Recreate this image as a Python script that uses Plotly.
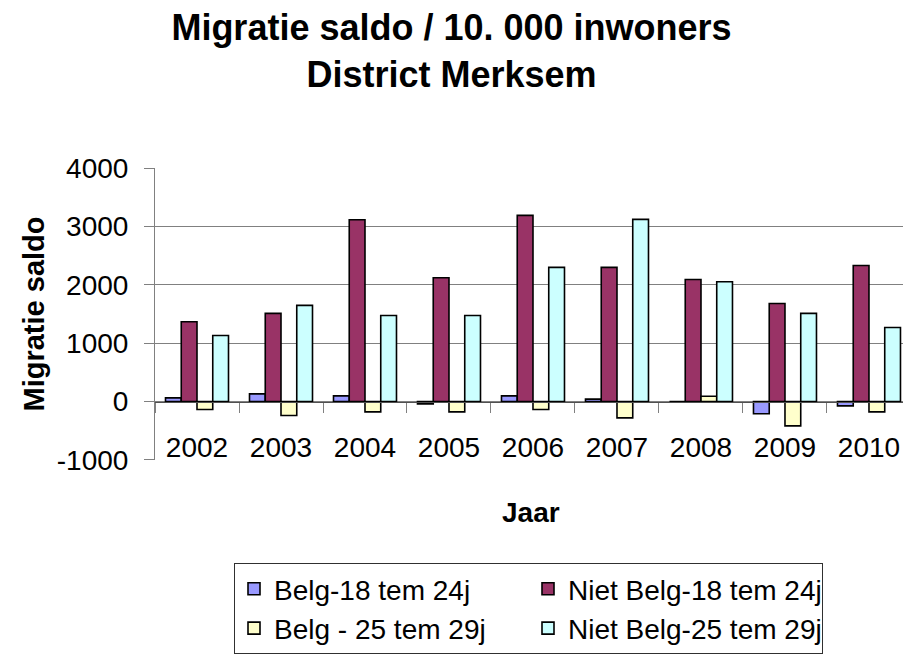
import plotly.graph_objects as go

years = ["2002", "2003", "2004", "2005", "2006", "2007", "2008", "2009", "2010"]
belg_18_24 = [63, 131, 97, -40, 97, 40, 0, -211, -74]
niet_belg_18_24 = [1366, 1509, 3114, 2120, 3189, 2297, 2091, 1680, 2331]
belg_25_29 = [-137, -240, -177, -177, -137, -280, 91, -417, -177]
niet_belg_25_29 = [1131, 1646, 1474, 1474, 2297, 3120, 2051, 1509, 1269]

series_names = ["Belg-18 tem 24j", "Niet Belg-18 tem 24j", "Belg - 25 tem 29j", "Niet Belg-25 tem 29j"]
series_values = [belg_18_24, niet_belg_18_24, belg_25_29, niet_belg_25_29]
series_colors = ["#9999FF", "#993366", "#FFFFCC", "#CCFFFF"]
series_groups = ["belg", "niet", "belg", "niet"]

y_ticks = [-1000, 0, 1000, 2000, 3000, 4000]
y_min, y_max = -1002, 4000
font = "Liberation Sans, Arial, sans-serif"

fig = go.Figure()
for name, vals, col, grp in zip(series_names, series_values, series_colors, series_groups):
    fig.add_trace(go.Bar(
        x=years, y=vals, name=name, legendgroup=grp,
        marker=dict(color=col, line=dict(color="black", width=1.6)),
    ))

zero_pos = (0 - y_min) / (y_max - y_min)

fig.update_layout(
    width=903, height=655,
    margin=dict(l=155, r=0, t=168, b=195, autoexpand=False),
    paper_bgcolor="white", plot_bgcolor="white",
    font=dict(family=font, color="black", size=28),
    barmode="group", bargap=0.25, bargroupgap=0,
    title=dict(
        text="<b>Migratie saldo / 10. 000 inwoners<br>District Merksem</b>",
        x=0.5, xref="container", xanchor="center",
        y=1 - 40 / 655, yref="container", yanchor="middle",
        font=dict(size=36, family=font),
    ),
    xaxis=dict(
        type="category",
        range=[-0.5, 8.405],
        anchor="free", position=zero_pos,
        showline=True, linecolor="#505050", linewidth=1,
        ticks="outside", tickson="boundaries", ticklen=10, tickcolor="#808080",
        showgrid=False, zeroline=False,
        tickfont=dict(size=28),
        ticklabelstandoff=21,
    ),
    yaxis=dict(
        range=[y_min, y_max],
        tickvals=y_ticks, ticktext=[str(v) for v in y_ticks],
        showgrid=True, gridcolor="#808080", gridwidth=1,
        showline=True, linecolor="#808080", linewidth=1,
        ticks="outside", ticklen=10, tickcolor="#808080",
        zeroline=False,
        tickfont=dict(size=28),
        ticklabelstandoff=10,
        title=dict(text="<b>Migratie saldo</b>", font=dict(size=29), standoff=3),
    ),
    legend=dict(
        orientation="h",
        x=(234 - 155) / 748, xanchor="left",
        y=(460 - 563) / 292, yanchor="top",
        bordercolor="#303030", borderwidth=1,
        entrywidth=249, entrywidthmode="pixels",
        font=dict(size=28),
        traceorder="grouped",
        tracegroupgap=0,
        itemwidth=30,
    ),
    showlegend=True,
    annotations=[dict(
        text="<b>Jaar</b>", xref="paper", yref="paper",
        x=(531 - 155) / 748, y=(460 - 512) / 292,
        xanchor="center", yanchor="middle", showarrow=False,
        font=dict(size=28, family=font),
    )],
)

fig.write_html("out.html", post_script="document.body.style.margin='0';",
               config={"displayModeBar": False})
